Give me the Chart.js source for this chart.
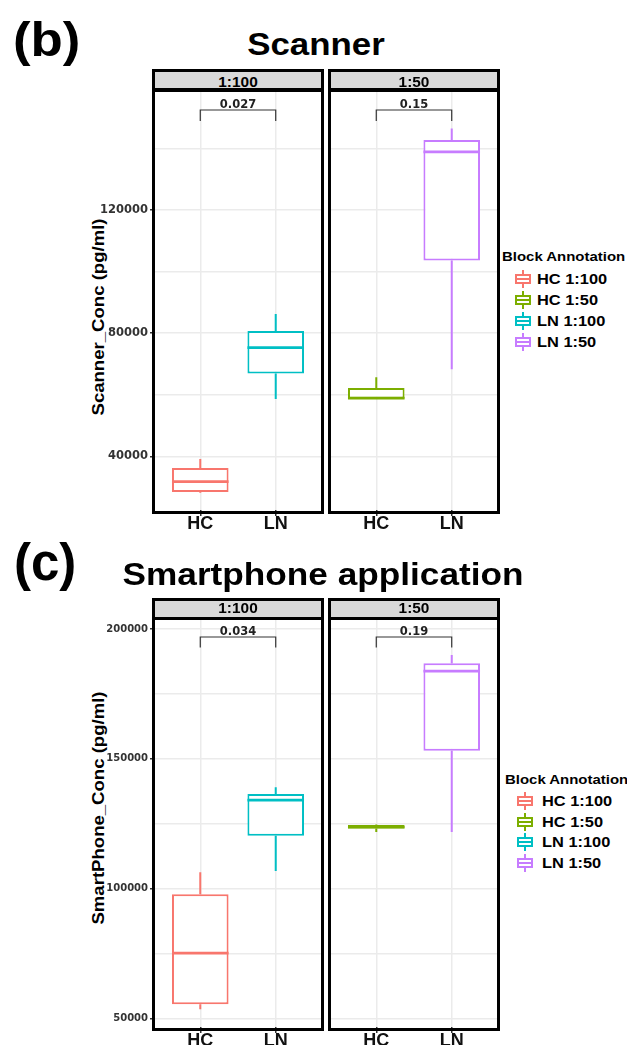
<!doctype html>
<html lang="en">
<head>
<meta charset="utf-8">
<title>Scanner / Smartphone application</title>
<script src="https://cdn.jsdelivr.net/npm/chart.js@4.4.1/dist/chart.umd.min.js"></script>
<style>
  body { margin: 0; background: #fff; }
  #page { position: relative; width: 627px; height: 1045px; overflow: hidden;
          font-family: "Liberation Sans", Arial, sans-serif; font-weight: bold; color: #000; }
  #page > * { position: absolute; }
  .tag { line-height: 1; white-space: nowrap; transform-origin: 0 0; }
  .title { font-size: 32px; line-height: 1; width: 500px; text-align: center; white-space: nowrap; }
  .ytitle { font-size: 16px; line-height: 1; white-space: nowrap;
            transform: translate(-50%, -50%) rotate(-90deg) scaleX(1.16); }
  .frame { box-sizing: border-box; border: 3px solid #000; pointer-events: none; z-index: 2; }
  .strip { background: #d9d9d9; height: 16px; }
  .striplabel { font-size: 14px; line-height: 14px; width: 100px; text-align: center;
                transform: scaleX(1.1); z-index: 3; }
  .legtitle { font-size: 13px; line-height: 13px; white-space: nowrap;
              transform: scaleX(1.15); transform-origin: 0 0; }
  .legtext { font-size: 14px; line-height: 14px; white-space: nowrap;
             transform: scaleX(1.17); transform-origin: 0 0; }
  .key { width: 16px; height: 18px; }
  .key div { position: absolute; box-sizing: border-box; }
</style>
</head>
<body>
<div id="page">
  <div class="tag" style="left:13px; top:16px; font-size:48px; transform:scaleX(1.1)">(b)</div>
  <div class="title" style="left:66px; top:28px; transform:scaleX(1.09)">Scanner</div>
  <div class="ytitle" style="left:99px; top:317px">Scanner_Conc (pg/ml)</div>

  <canvas id="scanLeft" width="324" height="450" style="left:0px; top:92px"></canvas>
  <canvas id="scanRight" width="172" height="450" style="left:328px; top:92px"></canvas>
  <div class="frame" style="left:152px; top:69px; width:172px; height:445px"><div class="strip" style="border-bottom:4px solid #000"></div></div>
  <div class="frame" style="left:328px; top:69px; width:172px; height:445px"><div class="strip" style="border-bottom:4px solid #000"></div></div>
  <div class="striplabel" style="left:188px; top:75px">1:100</div>
  <div class="striplabel" style="left:364px; top:75px">1:50</div>

  <div class="tag" style="left:14px; top:537px; font-size:51px">(c)</div>
  <div class="title" style="left:73px; top:558px; transform:scaleX(1.1)">Smartphone application</div>
  <div class="ytitle" style="left:99px; top:808px">SmartPhone_Conc (pg/ml)</div>

  <canvas id="phoneLeft" width="324" height="425" style="left:0px; top:620px"></canvas>
  <canvas id="phoneRight" width="172" height="425" style="left:328px; top:620px"></canvas>
  <div class="frame" style="left:152px; top:598px; width:172px; height:433px"><div class="strip" style="border-bottom:3px solid #000"></div></div>
  <div class="frame" style="left:328px; top:598px; width:172px; height:433px"><div class="strip" style="border-bottom:3px solid #000"></div></div>
  <div class="striplabel" style="left:188px; top:601px">1:100</div>
  <div class="striplabel" style="left:364px; top:601px">1:50</div>
</div>

<script>
// values, each box is [min, q1, median, q3, max]
const categories = ['HC', 'LN'];
const dilutions = ['1:100', '1:50'];
const seriesNames = ['HC 1:100', 'HC 1:50', 'LN 1:100', 'LN 1:50'];
const seriesColors = ['#F8766D', '#7CAE00', '#00BFC4', '#C77CFF'];

const scannerHC100 = [28200, 28400, 31800, 36200, 39100];
const scannerLN100 = [58600, 66900, 75300, 80700, 86200];
const scannerHC50 = [58600, 58700, 58900, 62200, 65700];
const scannerLN50 = [68300, 103600, 138900, 142700, 146500];

const phoneHC100 = [53500, 55400, 75100, 97800, 106300];
const phoneLN100 = [106800, 120300, 134100, 136400, 139000];
const phoneHC50 = [121800, 123100, 123700, 124500, 124700];
const phoneLN50 = [121800, 153100, 183800, 186800, 190000];

const scannerPValues = ['0.027', '0.15'];
const phonePValues = ['0.034', '0.19'];

const scannerTicks = [40000, 60000, 80000, 100000, 120000, 140000];
const scannerTickLabels = [40000, 80000, 120000];
const phoneTicks = [50000, 75000, 100000, 125000, 150000, 175000, 200000];
const phoneTickLabels = [50000, 100000, 150000, 200000];

// whiskers, medians and the p-value bracket, drawn on the chart's own scales
const boxWhiskers = {
  id: 'boxWhiskers',
  afterDatasetsDraw(chart, args, opts) {
    const ctx = chart.ctx;
    const x = chart.scales.x, y = chart.scales.y;
    const ds = chart.data.datasets[0];
    const meta = chart.getDatasetMeta(0);
    ctx.save();
    meta.data.forEach((bar, i) => {
      const s = ds.stats[i];
      const p = bar.getProps(['x', 'width'], true);
      ctx.strokeStyle = ds.borderColor[i];
      ctx.lineWidth = 2;
      ctx.beginPath();
      ctx.moveTo(p.x, y.getPixelForValue(s[3]));
      ctx.lineTo(p.x, y.getPixelForValue(s[4]));
      ctx.moveTo(p.x, y.getPixelForValue(s[1]));
      ctx.lineTo(p.x, y.getPixelForValue(s[0]));
      ctx.stroke();
      ctx.lineWidth = 2.8;
      const ym = y.getPixelForValue(s[2]);
      ctx.beginPath();
      ctx.moveTo(p.x - p.width / 2, ym);
      ctx.lineTo(p.x + p.width / 2, ym);
      ctx.stroke();
    });
    // comparison bracket
    const x0 = x.getPixelForValue(0), x1 = x.getPixelForValue(1);
    const yb = y.getPixelForValue(opts.bracket[0]);
    const yt = y.getPixelForValue(opts.bracket[1]);
    ctx.strokeStyle = '#333';
    ctx.lineWidth = 1.2;
    ctx.beginPath();
    ctx.moveTo(x0, yt); ctx.lineTo(x0, yb); ctx.lineTo(x1, yb); ctx.lineTo(x1, yt);
    ctx.stroke();
    ctx.fillStyle = '#222';
    ctx.font = 'bold 11.5px "DejaVu Sans"';
    ctx.textAlign = 'center';
    ctx.textBaseline = 'alphabetic';
    ctx.fillText(opts.label, (x0 + x1) / 2, yb - 2);
    ctx.restore();
  }
};

function facetChart(id, cfg) {
  return new Chart(document.getElementById(id), {
    type: 'bar',
    data: {
      datasets: [{
        data: cfg.boxes.map((b, i) => ({ x: i, y: [b[1], b[3]] })),
        stats: cfg.boxes,
        backgroundColor: '#ffffff',
        borderColor: cfg.colors,
        borderWidth: 2,
        borderSkipped: false,
        categoryPercentage: 1,
        barPercentage: 0.75
      }]
    },
    plugins: [boxWhiskers],
    options: {
      responsive: false,
      animation: false,
      devicePixelRatio: 1,
      layout: { padding: { left: cfg.padLeft, right: cfg.padRight, top: 0, bottom: 0 } },
      plugins: {
        legend: { display: false },
        tooltip: { enabled: false },
        boxWhiskers: { label: cfg.p, bracket: cfg.bracket }
      },
      scales: {
        x: {
          type: 'linear', min: -0.6, max: 1.6, offset: false,
          afterBuildTicks: s => { s.ticks = categories.map((c, i) => ({ value: i })); },
          afterFit: s => { s.height = cfg.xHeight; s.paddingLeft = 0; s.paddingRight = 0; },
          ticks: {
            callback: v => categories[v],
            autoSkip: false, maxRotation: 0, padding: -3,
            color: '#111',
            font: { family: 'Liberation Sans', size: 18, weight: 'bold' }
          },
          grid: { color: '#ebebeb', lineWidth: 1.5, offset: false, tickLength: 6, tickColor: '#333' },
          border: { display: false }
        },
        y: {
          min: cfg.yMin, max: cfg.yMax,
          afterBuildTicks: s => { s.ticks = cfg.ticks.map(v => ({ value: v })); },
          afterFit: s => { s.width = cfg.axisWidth; s.paddingTop = 0; s.paddingBottom = 0; },
          ticks: {
            display: cfg.showY,
            callback: v => cfg.labels.includes(v) ? String(v) : '',
            padding: 2,
            color: '#333',
            font: { family: 'DejaVu Sans', size: cfg.tickSize, weight: 'bold' }
          },
          grid: {
            color: '#ebebeb', lineWidth: 1.5,
            drawTicks: cfg.showY, tickLength: 5,
            tickColor: c => cfg.labels.includes(c.tick.value) ? '#333' : 'rgba(0,0,0,0)'
          },
          border: { display: false }
        }
      }
    }
  });
}

const scanY = { yMin: 22560, yMax: 158330, ticks: scannerTicks, labels: scannerTickLabels, tickSize: 11.5, xHeight: 32, bracket: [152480, 148910] };
const phoneY = { yMin: 46650, yMax: 203470, ticks: phoneTicks, labels: phoneTickLabels, tickSize: 10, xHeight: 18, bracket: [196920, 192870] };
const leftSide = { axisWidth: 155, padLeft: 0, padRight: 3, showY: true };
const rightSide = { axisWidth: 0, padLeft: 3, padRight: 3, showY: false };

facetChart('scanLeft', Object.assign({}, scanY, leftSide, {
  boxes: [scannerHC100, scannerLN100], colors: [seriesColors[0], seriesColors[2]], p: scannerPValues[0] }));
facetChart('scanRight', Object.assign({}, scanY, rightSide, {
  boxes: [scannerHC50, scannerLN50], colors: [seriesColors[1], seriesColors[3]], p: scannerPValues[1] }));
facetChart('phoneLeft', Object.assign({}, phoneY, leftSide, {
  boxes: [phoneHC100, phoneLN100], colors: [seriesColors[0], seriesColors[2]], p: phonePValues[0] }));
facetChart('phoneRight', Object.assign({}, phoneY, rightSide, {
  boxes: [phoneHC50, phoneLN50], colors: [seriesColors[1], seriesColors[3]], p: phonePValues[1] }));

// legends (one per panel)
function addLegend(titleLeft, titleTop, keyLeft, textLeft, rows) {
  const page = document.getElementById('page');
  const t = document.createElement('div');
  t.className = 'legtitle';
  t.style.left = titleLeft + 'px';
  t.style.top = titleTop + 'px';
  t.textContent = 'Block Annotation';
  page.appendChild(t);
  seriesNames.forEach((name, i) => {
    const col = seriesColors[i];
    const key = document.createElement('div');
    key.className = 'key';
    key.style.left = keyLeft + 'px';
    key.style.top = (rows[i] - 9) + 'px';
    key.innerHTML =
      '<div style="left:7px;top:0;width:2px;height:18px;background:' + col + '"></div>' +
      '<div style="left:0;top:4px;width:16px;height:10px;border:2px solid ' + col + ';background:#fff"></div>' +
      '<div style="left:0;top:8px;width:16px;height:2px;background:' + col + '"></div>';
    page.appendChild(key);
    const txt = document.createElement('div');
    txt.className = 'legtext';
    txt.style.left = textLeft + 'px';
    txt.style.top = (rows[i] - 7) + 'px';
    txt.textContent = name;
    page.appendChild(txt);
  });
}
addLegend(502, 250, 515, 537, [279, 300, 321, 342]);
addLegend(505, 773, 517, 542, [801, 822, 842, 863]);
</script>
</body>
</html>
